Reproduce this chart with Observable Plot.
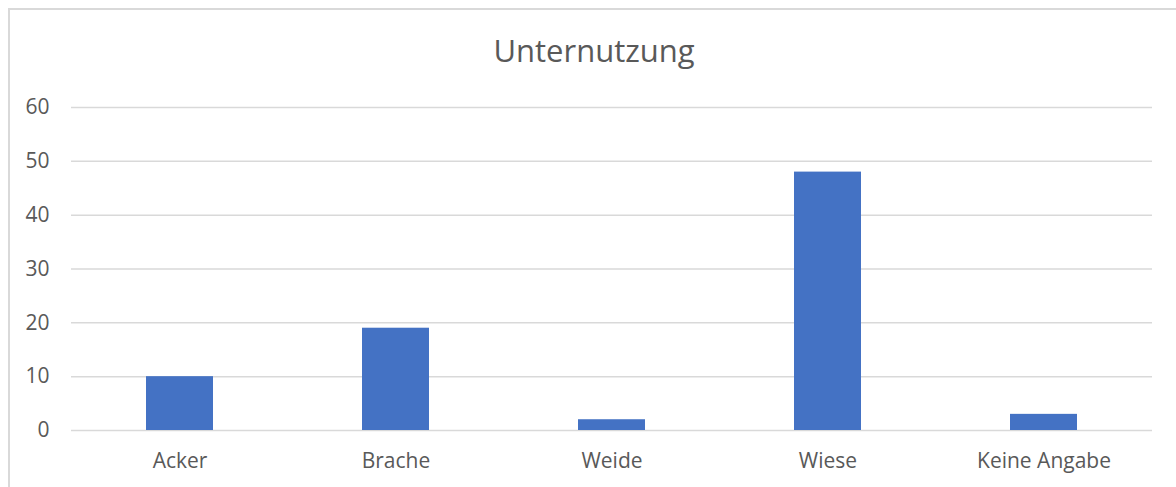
<!DOCTYPE html>
<html>
<head>
<meta charset="utf-8">
<script src="https://cdn.jsdelivr.net/npm/d3@7"></script>
<script src="https://cdn.jsdelivr.net/npm/@observablehq/plot@0.6"></script>
<style>
  html, body { margin: 0; padding: 0; background: #fff; }
  #wrap { position: relative; width: 1176px; height: 487px; overflow: hidden; font-family: "Open Sans", sans-serif; }
  #frame { position: absolute; left: 8px; top: 8px; right: -4px; bottom: -4px; border-left: 2px solid #d9d9d9; border-top: 2px solid #d9d9d9; pointer-events: none; }
  #title { height: 80px; box-sizing: border-box; padding-top: 35px; text-align: center; font-size: 31px; line-height: 31px; color: #595959; padding-left: 12px; }
  #chart svg { display: block; }
</style>
</head>
<body>
<div id="wrap">
  <div id="title">Unternutzung</div>
  <div id="chart"></div>
  <div id="frame"></div>
</div>
<script>
const categories = ["Acker", "Brache", "Weide", "Wiese", "Keine Angabe"];
const values = [10, 19, 2, 48, 3];
const yTicks = [0, 10, 20, 30, 40, 50, 60];

const data = categories.map((c, i) => ({category: c, value: values[i]}));

const chart = Plot.plot({
  width: 1176,
  height: 407,
  marginTop: 27,
  marginBottom: 57,
  marginLeft: 71,
  marginRight: 24,
  style: { fontFamily: "Open Sans, sans-serif", fontSize: "21px", color: "#595959", background: "#fff", overflow: "visible" },
  x: { domain: categories, paddingInner: 0.69, paddingOuter: 0.345, label: null },
  y: { domain: [0, 60], ticks: yTicks, label: null },
  marks: [
    Plot.ruleY(yTicks, { stroke: "#d9d9d9", strokeWidth: 1.5 }),
    Plot.barY(data, { x: "category", y: "value", fill: "#4472C4" }),
    Plot.axisY({ ticks: yTicks, tickSize: 0, tickPadding: 22, label: null, fill: "#595959" }),
    Plot.axisX({ tickSize: 0, tickPadding: 23, label: null, fill: "#595959" })
  ]
});
document.getElementById("chart").appendChild(chart);
</script>
</body>
</html>
